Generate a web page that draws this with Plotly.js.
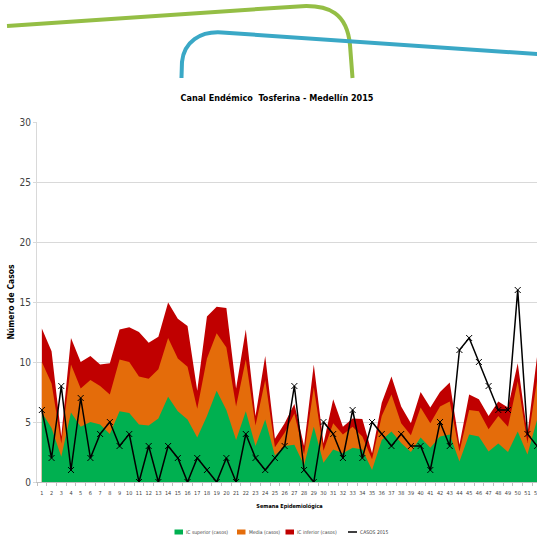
<!DOCTYPE html>
<html>
<head>
<meta charset="utf-8">
<script src="https://cdn.plot.ly/plotly-3.0.1.min.js"></script>
<style>
html,body{margin:0;padding:0;overflow:hidden;background:#fff;width:537px;height:537px;}
#chart{width:560px;height:560px;}
</style>
</head>
<body>
<div id="chart"></div>
<script>
// Semanas epidemiológicas
const semanas = [1,2,3,4,5,6,7,8,9,10,11,12,13,14,15,16,17,18,19,20,21,22,23,24,25,26,27,28,29,30,31,32,33,34,35,36,37,38,39,40,41,42,43,44,45,46,47,48,49,50,51,52];
// Series
const icInferior = [12.8,10.9,3.8,12.0,10.0,10.5,9.8,9.9,12.7,12.9,12.5,11.6,12.1,14.95,13.6,13.0,7.6,13.8,14.6,14.5,7.8,12.7,5.5,10.5,3.6,4.9,6.5,3.0,9.8,3.2,6.9,4.6,5.3,5.25,2.4,6.6,8.8,6.3,4.9,7.5,6.2,7.5,8.3,3.1,7.3,6.9,5.5,6.7,6.2,9.9,4.0,10.5];
const media = [10.0,8.2,3.2,9.8,7.8,8.5,8.0,7.3,10.2,10.0,8.8,8.6,9.4,12.0,10.3,9.6,6.1,10.3,12.4,11.2,6.3,10.2,4.7,8.5,2.9,4.1,5.7,2.3,7.9,2.6,4.9,3.95,4.6,3.8,1.9,5.5,7.3,4.9,3.9,6.2,4.9,6.3,6.7,2.55,6.0,5.9,4.4,5.5,4.6,8.4,3.25,8.5];
const icSuperior = [5.8,4.5,2.1,5.8,4.6,5.0,4.8,4.0,5.9,5.75,4.8,4.7,5.3,7.1,5.9,5.2,3.7,5.5,7.6,6.0,3.5,5.9,3.0,5.2,2.2,3.0,3.1,1.4,4.6,1.6,2.7,2.4,2.85,2.7,1.0,3.5,4.2,3.25,2.5,3.7,2.85,3.8,3.95,1.7,3.95,3.8,2.55,3.2,2.5,4.2,2.3,5.2];
const casos2015 = [6,2,8,1,7,2,4,5,3,4,0,3,0,3,2,0,2,1,0,2,0,4,2,1,2,3,8,1,0,5,4,2,6,2,5,4,3,4,3,3,1,5,3,11,12,10,8,6,6,16,4,3];
const yTicks = [0,5,10,15,20,25,30];
const nombres = ['IC superior (casos)','Media (casos)','IC inferior (casos)','CASOS 2015'];
const colores = ['#00B050','#E46C0A','#C00000','#000000'];

const W = 560, H = 560, ML = 37, MR = 18, MT = 122, MB = 78;
const PW = W - ML - MR, PH = H - MT - MB;
const BOTTOM = H - MB;
function pxX(X){ return (X - ML)/PW; }
function pxY(Y){ return (BOTTOM - Y)/PH; }
function px(X, Y){ return pxX(X).toFixed(4) + ',' + pxY(Y).toFixed(4); }

const font = "'DejaVu Sans Condensed','Liberation Sans',Arial,sans-serif";

const traces = [
  {x: semanas, y: icInferior, type:'scatter', mode:'lines', fill:'tozeroy', name:nombres[2],
   line:{width:0, color:colores[2]}, fillcolor:colores[2]},
  {x: semanas, y: media, type:'scatter', mode:'lines', fill:'tozeroy', name:nombres[1],
   line:{width:0, color:colores[1]}, fillcolor:colores[1]},
  {x: semanas, y: icSuperior, type:'scatter', mode:'lines', fill:'tozeroy', name:nombres[0],
   line:{width:0, color:colores[0]}, fillcolor:colores[0]},
  {x: semanas, y: casos2015, type:'scatter', mode:'lines+markers', name:nombres[3],
   line:{width:1.5, color:'#000000'},
   marker:{symbol:'x-thin', size:6, line:{width:1, color:'#000000'}, color:'#000000'}}
];

// Leyenda compacta (como en el original)
const legX = [174.5, 237, 285.5, 348];
const legY = 532;
const shapes = [
  {type:'path', xref:'paper', yref:'paper', layer:'above',
   path:'M'+px(7,26)+' L'+px(298,6.4)+' C'+px(330,4)+' '+px(347,14)+' '+px(350,45)+' L'+px(352.5,78),
   line:{color:'#94BE45', width:4}},
  {type:'path', xref:'paper', yref:'paper', layer:'above',
   path:'M'+px(181.5,78)+' L'+px(182,62)+' C'+px(184,42)+' '+px(200,31)+' '+px(222,32.5)+' L'+px(560,55.6),
   line:{color:'#3AA8C6', width:4}}
];
const annotations = [];
nombres.forEach((n, i) => {
  if (i < 3) {
    shapes.push({type:'rect', xref:'paper', yref:'paper', x0:pxX(legX[i]), x1:pxX(legX[i]+8.5),
      y0:pxY(legY+2.5), y1:pxY(legY-2.5), fillcolor:colores[i], line:{width:0}});
  } else {
    shapes.push({type:'line', xref:'paper', yref:'paper', x0:pxX(legX[i]), x1:pxX(legX[i]+9),
      y0:pxY(legY), y1:pxY(legY), line:{color:colores[i], width:1.5}});
  }
  annotations.push({text:n, xref:'paper', yref:'paper', x:pxX(legX[i]+9.5), y:pxY(legY),
    xanchor:'left', yanchor:'middle', showarrow:false, font:{family:font, size:5, color:'#404040'}});
});

const layout = {
  width: W, height: H,
  margin:{l:ML, r:MR, t:MT, b:MB, pad:0},
  paper_bgcolor:'#ffffff', plot_bgcolor:'#ffffff',
  showlegend:false,
  title:{text:'Canal Endémico  Tosferina - Medellín 2015', font:{family:font, size:9, color:'#000000', weight:'bold'},
         x:277/W, xref:'container', xanchor:'center', y:1-98/H, yref:'container', yanchor:'middle'},
  xaxis:{range:[0.5,52.5], tickmode:'array', tickvals:semanas, ticktext:semanas.map(String),
         ticks:'', showgrid:false, showline:true, linecolor:'#bfbfbf', linewidth:1, ticklabelstandoff:5,
         tickfont:{family:font, size:5.5, color:'#404040'},
         minor:{tickmode:'linear', tick0:0.5, dtick:1, ticks:'outside', ticklen:3, tickcolor:'#bfbfbf', showgrid:false},
         title:{text:'Semana Epidemiológica', font:{family:font, size:5.5, color:'#000000', weight:'bold'}, standoff:9},
         zeroline:false, fixedrange:true, automargin:false},
  yaxis:{range:[0,30], tickmode:'array', tickvals:yTicks, ticks:'outside', ticklen:3, tickcolor:'#d9d9d9',
         showgrid:true, gridcolor:'#d9d9d9', gridwidth:1, showline:true, linecolor:'#d9d9d9',
         tickfont:{family:font, size:10, color:'#404040'},
         title:{text:'Número de Casos', font:{family:font, size:8.5, color:'#000000', weight:'bold'}, standoff:3},
         zeroline:false, fixedrange:true, automargin:false},
  shapes: shapes,
  annotations: annotations,
  hovermode:false
};

Plotly.newPlot('chart', traces, layout, {staticPlot:true, displayModeBar:false});
</script>
</body>
</html>
